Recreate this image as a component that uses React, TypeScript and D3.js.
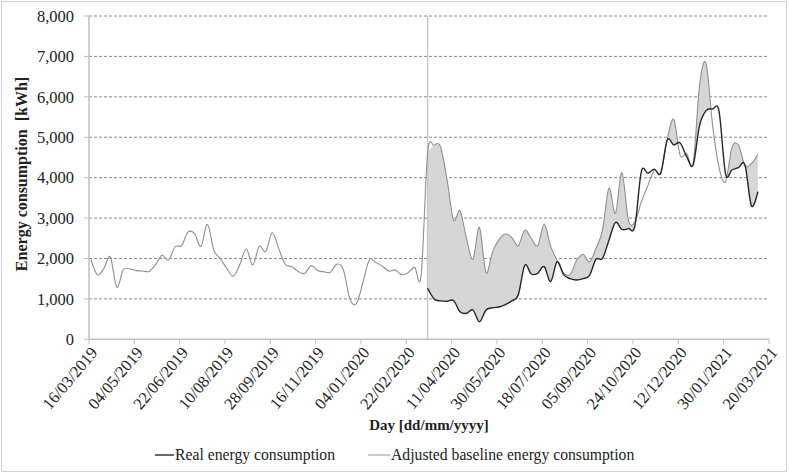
import React from 'react';
import * as d3 from 'd3';

const dataStartLabel = '18/03/2019';
const realStartLabel = '16/03/2020';

const xTickLabels = [
  '16/03/2019', '04/05/2019', '22/06/2019', '10/08/2019', '28/09/2019', '16/11/2019',
  '04/01/2020', '22/02/2020', '11/04/2020', '30/05/2020', '18/07/2020', '05/09/2020',
  '24/10/2020', '12/12/2020', '30/01/2021', '20/03/2021',
];

const yTicks = [0, 1000, 2000, 3000, 4000, 5000, 6000, 7000, 8000];

// Weekly adjusted baseline energy consumption [kWh]
const baselineValues = [
  1980, 1600, 1750, 2040, 1290, 1720, 1740, 1700, 1690, 1680,
  1850, 2080, 1960, 2290, 2320, 2650, 2620, 2300, 2845, 2200,
  2000, 1750, 1560, 1850, 2235, 1839, 2300, 2170, 2638, 2250,
  1856, 1800, 1680, 1630, 1822, 1700, 1670, 1660, 1860, 1715,
  1000, 880, 1400, 1970, 1900, 1810, 1690, 1715, 1600, 1650,
  1780, 1590, 4600, 4800, 4760, 3950, 2952, 3182, 2500, 1980,
  2771, 1650, 2150, 2460, 2606, 2524, 2316, 2700, 2500, 2316,
  2853, 2300, 1950, 1650, 1600, 1950, 2100, 1920, 2250, 2700,
  3737, 3118, 4123, 2950, 2900, 3400, 3800, 4180, 4120, 4950,
  5440, 4550, 4600, 4350, 6300, 6820, 5300, 4250, 3900, 4750,
  4808, 4300, 4350, 4580,
];

// Weekly real energy consumption [kWh], from 16/03/2020
const realValues = [
  1262, 1000, 950, 940, 960, 683, 643, 725, 436, 720,
  780, 800, 860, 950, 1100, 1830, 1616, 1633, 1797, 1425,
  1920, 1600, 1500, 1467, 1500, 1580, 1980, 2000, 2450, 2890,
  2720, 2740, 2800, 4150, 4110, 4210, 4110, 4930, 4810, 4860,
  4520, 4320, 5300, 5660, 5700, 5640, 4100, 4190, 4250, 4313,
  3300, 3653,
];

const FONT = '"Liberation Serif", "Times New Roman", serif';

export default function App() {
  const parse = d3.utcParse('%d/%m/%Y');
  const start = parse(dataStartLabel) as Date;
  const realStart = parse(realStartLabel) as Date;
  const dates = baselineValues.map((_, i) => d3.utcDay.offset(start, 7 * i));
  const realIdx = dates.findIndex((d) => +d === +realStart);
  const realDates = dates.slice(realIdx);
  const tickDates = xTickLabels.map((l) => parse(l) as Date);

  const x = d3.scaleUtc().domain([tickDates[0], tickDates[tickDates.length - 1]]).range([89, 769]);
  const y = d3.scaleLinear().domain([0, 8000]).range([339.3, 16]);
  const curve = d3.curveCardinal.tension(0);

  const baseLine = d3.line<number>().x((_, i) => x(dates[i])).y((d) => y(d)).curve(curve)(baselineValues) || '';
  const realLine = d3.line<number>().x((_, i) => x(realDates[i])).y((d) => y(d)).curve(curve)(realValues) || '';
  const clipArea = d3.area<number>().x((_, i) => x(realDates[i])).y0((d) => y(d)).y1(0).curve(curve)(realValues) || '';
  const fillArea = d3.area<number>().x((_, i) => x(realDates[i])).y0(y(0)).y1((d) => y(d)).curve(curve)(baselineValues.slice(realIdx)) || '';

  const fmt = d3.format(',');
  const x0 = x.range()[0];
  const x1 = x.range()[1];

  return (
    <svg width={789} height={474} style={{ position: 'absolute', left: 0, top: 0, background: '#fff' }} fontFamily={FONT}>
      <rect x={1.5} y={1.5} width={785} height={470} fill="#fff" stroke="#d0d0d0" strokeWidth={1} />
      <defs>
        <clipPath id="aboveReal">
          <path d={clipArea} />
        </clipPath>
      </defs>
      {yTicks.filter((t) => t > 0).map((t) => (
        <line key={t} x1={x0} x2={x1} y1={y(t)} y2={y(t)} stroke="#8a8a8a" strokeWidth={1} strokeDasharray="3,2" />
      ))}
      {yTicks.map((t) => (
        <line key={'yt' + t} x1={x0 - 5} x2={x0} y1={y(t)} y2={y(t)} stroke="#bfbfbf" strokeWidth={1} />
      ))}
      <path d={fillArea} fill="#d6d6d6" clipPath="url(#aboveReal)" />
      <line x1={x(realStart)} x2={x(realStart)} y1={y(8000)} y2={y(0)} stroke="#c8c8c8" strokeWidth={1.5} />
      <line x1={x0} x2={x0} y1={y(8000)} y2={y(0)} stroke="#bfbfbf" strokeWidth={1.5} />
      <line x1={x0} x2={x1} y1={y(0)} y2={y(0)} stroke="#bfbfbf" strokeWidth={1.5} />
      {tickDates.map((d, i) => (
        <line key={'xt' + i} x1={x(d)} x2={x(d)} y1={y(0)} y2={y(0) + 5} stroke="#bfbfbf" strokeWidth={1} />
      ))}
      <path d={baseLine} fill="none" stroke="#8f8f8f" strokeWidth={1.1} />
      <path d={realLine} fill="none" stroke="#262626" strokeWidth={1.4} />
      {yTicks.map((t) => (
        <text key={'yl' + t} x={74} y={y(t)} dy="0.35em" textAnchor="end" fontSize={16.5} fill="#222">
          {fmt(t)}
        </text>
      ))}
      {tickDates.map((d, i) => (
        <text key={'xl' + i} transform={`translate(${x(d) + 5},${y(0) + 10}) rotate(-50)`} textAnchor="end" dy="0.35em" fontSize={16.5} fill="#222">
          {xTickLabels[i]}
        </text>
      ))}
      <text transform={`translate(21,174) rotate(-90)`} textAnchor="middle" dy="0.35em" fontSize={16} fontWeight="bold" fill="#222" style={{ whiteSpace: 'pre' }}>
        {'Energy consumption  [kWh]'}
      </text>
      <text x={(x0 + x1) / 2} y={430} textAnchor="middle" fontSize={15} fontWeight="bold" fill="#222">
        Day [dd/mm/yyyy]
      </text>
      <line x1={155} x2={174} y1={455} y2={455} stroke="#262626" strokeWidth={1.4} />
      <text x={175} y={460} fontSize={15.7} fill="#222">Real energy consumption</text>
      <line x1={368} x2={390} y1={455} y2={455} stroke="#a6a6a6" strokeWidth={1.2} />
      <text x={391} y={460} fontSize={15.7} fill="#222">Adjusted baseline energy consumption</text>
    </svg>
  );
}
